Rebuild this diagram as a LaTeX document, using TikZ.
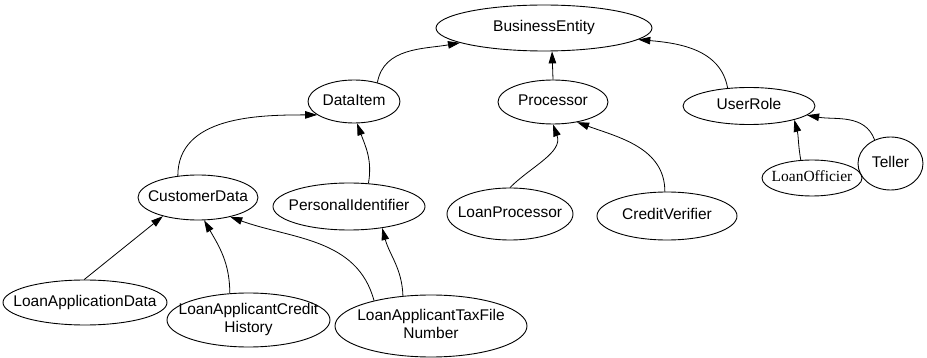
\documentclass[tikz,border=0pt]{standalone}
\usepackage{fontspec}
\setmainfont{Liberation Sans}
\newfontfamily\timesFont{Liberation Serif}
\usetikzlibrary{shapes.geometric,arrows.meta}
\newcommand{\classText}[1]{\makebox[0pt]{\begin{tabular}{@{}c@{}}#1\end{tabular}}}

\begin{document}
\begin{tikzpicture}[x=1pt, y=1pt]
  \tikzset{class/.style={ellipse, draw, line width=0.9pt, inner sep=0pt,
      font=\fontsize{15.5}{18.5}\selectfont},
    isa/.style={line width=0.8pt, -{Triangle[length=12pt,width=7.5pt]}}}
  \useasboundingbox (0,0) rectangle (927,-358);

  \node[class, minimum width=216pt, minimum height=46pt] (BusinessEntity) at (544,-28) {\classText{BusinessEntity}};
  \node[class, minimum width=92pt, minimum height=43pt] (DataItem) at (354,-101.5) {\classText{DataItem}};
  \node[class, minimum width=110pt, minimum height=44pt] (Processor) at (553,-102) {\classText{Processor}};
  \node[class, minimum width=132pt, minimum height=37pt] (UserRole) at (749,-106) {\classText{UserRole}};
  \node[class, minimum width=120pt, minimum height=45pt] (CustomerData) at (198,-197.5) {\classText{CustomerData}};
  \node[class, minimum width=152pt, minimum height=47pt] (PersonalIdentifier) at (349,-206.5) {\classText{PersonalIdentifier}};
  \node[class, minimum width=126pt, minimum height=52pt] (LoanProcessor) at (510,-214) {\classText{LoanProcessor}};
  \node[class, minimum width=140pt, minimum height=48pt] (CreditVerifier) at (667,-216) {\classText{CreditVerifier}};
  \node[class, minimum width=100pt, minimum height=36pt] (LoanOfficier) at (812,-178) {\classText{\timesFont LoanOfficier}};
  \node[class, minimum width=65pt, minimum height=53pt] (Teller) at (890.5,-163.5) {\classText{Teller}};
  \node[class, minimum width=164pt, minimum height=45pt] (LoanApplicationData) at (85,-302.5) {\classText{LoanApplicationData}};
  \node[class, minimum width=163pt, minimum height=54pt] (LoanApplicantCreditHistory) at (248.5,-320) {\classText{LoanApplicantCredit\\History}};
  \node[class, minimum width=192pt, minimum height=62pt] (LoanApplicantTaxFileNumber) at (431,-326) {\classText{LoanApplicantTaxFile\\Number}};

  \draw[isa] (DataItem.39) to[out=80, in=190] (BusinessEntity.190);
  \draw[isa] (Processor.90) -- (BusinessEntity.-71);
  \draw[isa] (UserRole.140) to[out=100, in=-5] (BusinessEntity.-7);
  \draw[isa] (CustomerData.133) to[out=90, in=180] (DataItem.200);
  \draw[isa] (PersonalIdentifier.50) to[out=80, in=-70] (DataItem.-82);
  \draw[isa] (LoanProcessor.90) to[out=45, in=-70] (Processor.-90);
  \draw[isa] (CreditVerifier.95) to[out=90, in=-20] (Processor.-40);
  \draw[isa] (LoanOfficier.122) to[out=100, in=-75] (UserRole.-17);
  \draw[isa] (Teller.124) to[out=110, in=-10] (UserRole.-9);
  \draw[isa] (LoanApplicationData.92) -- (CustomerData.208);
  \draw[isa] (LoanApplicantCreditHistory.125) to[out=90, in=-60] (CustomerData.-75);
  \draw[isa] (LoanApplicantTaxFileNumber.156) to[out=105, in=-20] (CustomerData.-31);
  \draw[isa] (LoanApplicantTaxFileNumber.133) to[out=92, in=-75] (PersonalIdentifier.-33);
\end{tikzpicture}
\end{document}
